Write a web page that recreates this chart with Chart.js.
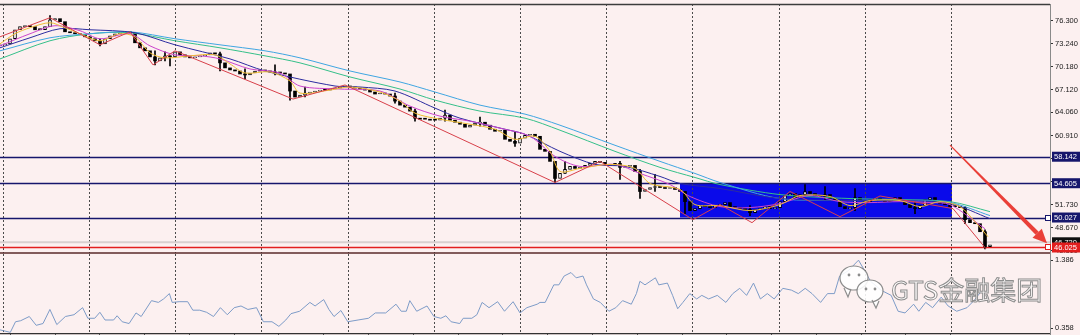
<!DOCTYPE html>
<html><head><meta charset="utf-8">
<script src="https://cdn.jsdelivr.net/npm/chart.js@4.4.1/dist/chart.umd.min.js"></script>
<style>
html,body{margin:0;padding:0;background:#FCF0F0;}
#wrap{position:relative;width:1080px;height:335px;overflow:hidden;background:#FCF0F0;}
#c1{position:absolute;left:0;top:0;}
#c2{position:absolute;left:0;top:254px;}
</style></head><body>
<div id="wrap"><canvas id="c1" width="1080" height="254"></canvas><canvas id="c2" width="1080" height="81"></canvas></div>
<script>
// ---------------- DATA ----------------
const opens = [72.94,73.08,73.21,73.89,75.09,75.50,75.63,75.50,75.09,75.09,
75.50,76.43,76.57,76.17,74.82,74.69,74.56,74.42,74.15,73.89,
73.62,73.21,73.89,74.29,74.56,74.69,74.82,74.69,73.35,72.68,
72.28,71.47,70.93,71.34,71.61,71.47,72.14,71.74,71.47,71.34,
71.47,71.61,71.74,72.01,71.87,70.67,70.00,69.73,69.59,69.19,
69.06,69.32,69.59,69.59,69.59,69.46,69.32,69.32,69.19,66.91,
66.11,66.37,66.64,66.78,66.91,67.04,67.04,67.18,67.31,67.45,
67.58,67.45,67.31,67.18,67.04,66.78,66.51,66.64,66.51,66.24,
65.57,65.03,64.76,64.23,63.29,63.15,63.15,63.02,63.02,63.29,
63.69,63.02,62.75,62.48,62.08,62.35,62.62,62.75,62.35,61.81,
61.54,61.68,60.47,60.20,59.94,60.61,61.01,61.14,60.87,59.13,
58.86,57.52,55.24,55.91,56.45,56.85,56.58,56.72,56.98,57.25,
57.52,57.39,57.12,56.98,57.25,56.72,56.85,56.98,56.18,53.50,
53.77,54.03,54.17,54.03,53.90,54.03,53.77,53.50,52.15,50.95,
51.22,51.62,51.48,51.35,51.62,51.75,52.02,51.48,51.35,51.22,
51.08,50.68,51.08,51.22,51.48,51.22,51.35,52.15,52.96,53.23,
52.69,53.09,53.50,53.23,52.96,52.83,53.09,52.56,52.29,51.48,
51.22,51.35,52.69,52.29,52.15,52.42,52.56,52.29,52.15,52.42,
52.69,52.29,51.75,51.35,51.22,51.62,52.42,52.69,52.15,51.89,
51.75,51.48,51.48,51.35,49.74,49.34,49.20,48.13,46.12];
const closes = [73.08,73.21,73.89,75.09,75.50,75.63,75.50,75.09,75.09,75.50,
76.43,76.57,76.17,74.82,74.69,74.56,74.42,74.15,73.89,73.62,
73.21,73.89,74.29,74.56,74.69,74.82,74.69,73.35,72.68,72.28,
71.47,70.93,71.34,71.61,71.47,72.14,71.74,71.47,71.34,71.47,
71.61,71.74,72.01,71.87,70.67,70.00,69.73,69.59,69.19,69.06,
69.32,69.59,69.59,69.59,69.46,69.32,69.32,69.19,66.91,66.11,
66.37,66.64,66.78,66.91,67.04,67.04,67.18,67.31,67.45,67.58,
67.45,67.31,67.18,67.04,66.78,66.51,66.64,66.51,66.24,65.57,
65.03,64.76,64.23,63.29,63.15,63.15,63.02,63.02,63.29,63.69,
63.02,62.75,62.48,62.08,62.35,62.62,62.75,62.35,61.81,61.54,
61.68,60.47,60.20,59.94,60.61,61.01,61.14,60.87,59.13,58.86,
57.52,55.24,55.91,56.45,56.85,56.58,56.72,56.98,57.25,57.52,
57.39,57.12,56.98,57.25,56.72,56.85,56.98,56.18,53.50,53.77,
54.03,54.17,54.03,53.90,54.03,53.77,53.50,52.15,50.95,51.22,
51.62,51.48,51.35,51.62,51.75,52.02,51.48,51.35,51.22,51.08,
50.68,51.08,51.22,51.48,51.22,51.35,52.15,52.96,53.23,52.69,
53.09,53.50,53.23,52.96,52.83,53.09,52.56,52.29,51.48,51.22,
51.35,52.69,52.29,52.15,52.42,52.56,52.29,52.15,52.42,52.69,
52.29,51.75,51.35,51.22,51.62,52.42,52.69,52.15,51.89,51.75,
51.48,51.48,51.35,49.74,49.34,49.20,48.13,46.12,46.39];
const wickIdx  = [10,20,31,33,34,44,49,55,58,61,79,83,89,96,103,111,113,124,128,131,137,150,161,165,171,183,193,197];
const wickHigh = [76.97,73.89,72.28,72.14,71.61,72.10,69.86,70.40,68.25,67.45,66.64,64.50,64.36,63.42,61.54,56.85,57.52,57.52,56.45,55.78,53.50,51.62,54.43,54.17,53.90,52.15,51.48,48.39];
const wickLow  = [76.03,72.94,70.40,70.93,70.26,69.59,68.52,69.06,65.70,66.11,65.30,62.89,62.89,62.22,59.53,54.70,55.91,55.11,52.56,53.50,50.54,50.28,52.83,52.42,50.95,50.54,49.20,45.85];

const maOrange = [[0,73.21],[3,74.56],[6,75.36],[10,76.03],[13,75.36],[16,74.56],[20,73.62],[24,74.56],[27,74.15],[30,72.01],[33,71.34],[38,71.61],[43,71.74],[46,70.53],[49,69.32],[54,69.46],[58,68.25],[60,66.64],[66,67.04],[70,67.45],[76,66.78],[80,65.57],[83,63.96],[88,63.15],[94,62.48],[99,61.81],[103,60.47],[107,60.87],[110,58.86],[112,56.18],[116,56.58],[122,57.12],[127,56.58],[130,54.57],[136,53.77],[139,51.75],[144,51.62],[150,50.95],[156,51.75],[160,52.96],[166,52.83],[170,51.62],[174,52.29],[180,52.29],[184,51.48],[188,52.15],[192,51.48],[195,49.47],[197.6,47.46]];
const maMagenta = [[0,72.94],[6,74.56],[11,75.63],[16,74.96],[20,73.89],[26,74.56],[30,72.94],[35,71.74],[40,71.61],[44,71.20],[50,69.86],[56,69.32],[60,67.58],[68,67.18],[76,66.91],[82,64.90],[88,63.56],[94,62.89],[100,61.95],[106,60.87],[111,58.19],[116,56.85],[123,57.12],[128,55.91],[134,54.43],[138,52.83],[144,51.48],[150,51.35],[156,51.89],[162,52.96],[168,52.15],[174,52.02],[180,52.15],[186,52.02],[190,51.75],[197,48.53]];
const maNavy = [[0,72.68],[6,74.02],[12,75.23],[18,75.09],[27,74.69],[35,73.08],[46,71.20],[53,69.59],[67,67.58],[72,67.45],[79,66.91],[87,64.63],[92,63.29],[101,61.81],[105,61.14],[112,58.86],[119,57.12],[125,56.85],[132,55.51],[136,54.57],[144,53.90],[156,52.56],[170,52.29],[180,52.29],[190,51.89],[198,49.87]];
const maBlue = [[0,72.28],[10,74.02],[18,74.56],[26,74.82],[35,73.89],[44,73.08],[53,72.28],[60,71.34],[70,69.59],[80,68.12],[87,66.78],[96,65.03],[105,63.83],[112,62.35],[123,59.67],[132,57.52],[139,55.91],[144,54.70],[156,52.56],[170,52.29],[180,52.29],[190,52.02],[198,50.28]];
const maGreen = [[0,71.20],[10,73.62],[18,74.56],[26,74.69],[35,73.62],[44,72.68],[53,71.61],[60,70.67],[70,68.79],[80,67.18],[87,65.70],[96,64.23],[105,63.29],[112,61.68],[123,58.86],[132,56.72],[139,55.37],[144,54.43],[156,53.09],[170,52.56],[180,52.42],[190,52.15],[198,50.81]];
const zigzag = [[0,74.15],[10,76.70],[20,73.08],[26,74.82],[30.6,70.40],[35,72.28],[58.6,65.84],[69,67.72],[111,54.70],[120,57.52],[138.6,49.74],[144,51.75],[150.4,49.34],[158,53.50],[168,50.14],[176,52.90],[190.6,51.22],[197.2,45.85]];

const oscIdx = [0,2.06,3.1,4.14,5.86,7.24,8.6,9.98,11.36,13.08,14.8,16.52,17.56,18.94,19.98,21.0,22.72,23.42,24.44,25.82,27.2,28.24,30.3,31.68,32.72,33.88,34.44,35.82,37.54,38.56,39.94,41.32,42.7,44.08,45.46,46.84,48.2,49.58,51.3,52.68,54.4,55.78,57.16,58.2,59.92,61.98,63.02,64.74,65.78,66.8,68.18,69.56,71.62,73.7,75.06,77.14,79.2,80.24,81.26,81.96,83.34,85.4,86.78,88.16,89.18,90.22,91.94,92.64,94.36,95.38,96.42,97.8,99.52,100.9,102.62,104.0,105.38,107.44,108,109.04,110.76,111.78,112.82,114.2,115.24,116.6,117.3,118.68,120.06,121.78,123.16,124.52,126.26,127.28,127.98,129.0,131.08,131.76,133.48,134.52,135.54,136.58,137.96,139.34,140.36,141.74,143.46,145.18,146.56,147.94,149.32,150.7,152.08,153.46,154.84,156.56,158.28,159.66,161.04,162.4,164.12,165.5,166.88,167.92,169.64,171.7,172.74,174.12,176.18,178.24,179.62,181.0,182.72,183.76,185.14,186.52,188.24,189.62,191.34,193.4,194.78,196.16];
const oscVal = [0.330,0.292,0.453,0.469,0.533,0.399,0.426,0.640,0.410,0.533,0.560,0.667,0.506,0.506,0.597,0.480,0.480,0.544,0.453,0.426,0.587,0.533,0.774,0.747,0.800,0.881,0.747,0.758,0.758,0.629,0.629,0.597,0.533,0.667,0.560,0.667,0.693,0.640,0.667,0.453,0.453,0.383,0.480,0.576,0.613,0.747,0.693,0.790,0.640,0.533,0.624,0.453,0.480,0.506,0.587,0.587,0.720,0.613,0.613,0.774,0.613,0.693,0.533,0.506,0.544,0.453,0.426,0.506,0.506,0.560,0.747,0.667,0.758,0.613,0.758,0.587,0.667,0.720,0.747,0.747,1.014,1.014,1.148,1.201,1.121,1.148,1.014,0.800,0.747,0.613,0.667,0.774,0.720,0.881,1.068,1.014,1.121,1.014,1.041,0.854,0.651,0.747,0.881,0.800,0.854,0.800,0.854,0.747,0.881,0.961,0.854,1.041,0.800,0.881,0.800,0.961,0.934,0.881,0.961,0.881,0.747,0.881,0.881,1.148,1.228,1.389,1.255,1.068,0.934,0.854,0.613,0.587,0.720,0.613,0.747,0.667,0.827,0.693,0.613,0.667,0.774,0.907];

const priceTicks = [76.300,73.240,70.180,67.120,64.060,60.910,57.850,54.790,51.730,48.670,45.610];
const oscTicks = [1.386,0.358];
const timeGridIdx = [0.6,17.85,35.1,52.35,69.6,86.85,104.1,121.35,138.6,155.85,173.1,190.35];
const timeTickIdx = [2.06,11.02,19.97,28.93,37.88,46.84,55.80,64.75,73.71,82.66,91.62,100.58,109.53,118.49,127.44,136.40,145.36,154.31,163.27,172.22,181.18,190.14];
const levelVals = [58.142,54.605,50.027];
const supportVal = 46.025;
const bidVal = 46.720;
const rangeBox = [136, 190.4, 54.605, 50.027];   // from idx, to idx, top price, bottom price
const arrowFrom = [190, 59.70];
const arrowTo = [209.4, 46.60];
const brandText = 'GTS金融集团';

// ---------------- STYLE ----------------
const BG = '#FCF0F0';
const NAVY = '#16166C';
const RED = '#E21E1E';
const FONT = "'Liberation Sans', Arial, sans-serif";
Chart.defaults.font.family = FONT;

const gridX = () => ({
  type:'linear', min:0, max:210, offset:false,
  afterBuildTicks: s => { s.ticks = timeGridIdx.map(v => ({value:v})); },
  afterFit: s => { s.height = 0; s.paddingLeft = 0; s.paddingRight = 0; },
  ticks:{display:false},
  grid:{color:'#4a4a4a', lineWidth:1, drawTicks:false, offset:false},
  border:{display:false, dash:[2,2]}
});
const rightY = (min, max, vals) => ({
  type:'linear', position:'right', min, max,
  afterBuildTicks: s => { s.ticks = vals.map(v => ({value:v})); },
  afterFit: s => { s.width = 30; s.paddingTop = 0; s.paddingBottom = 0; },
  ticks:{color:'#1a1a1a', font:{family:FONT, size:7.5}, padding:2, autoSkip:false, callback: v => Number(v).toFixed(3)},
  grid:{drawOnChartArea:false, drawTicks:true, tickLength:3, color:'#333'},
  border:{display:true, color:'#8a8a8a', width:1}
});

const pts = arr => arr.map(([x,y]) => ({x, y}));
const lineDs = (label, arr, color, order, tension) => ({type:'line', label, data:pts(arr), borderColor:color, borderWidth:1, pointRadius:0, tension, fill:false, order});

const mainDecor = {
  id:'mainDecor',
  beforeDraw(chart){
    const {ctx, scales:{x,y}} = chart;
    ctx.save();
    ctx.fillStyle = BG; ctx.fillRect(0,0,chart.width,chart.height);
    const x0 = x.getPixelForValue(rangeBox[0]), x1 = x.getPixelForValue(rangeBox[1]);
    const y0 = y.getPixelForValue(rangeBox[2]), y1 = y.getPixelForValue(rangeBox[3]);
    ctx.fillStyle = '#0A0AEA';
    ctx.fillRect(x0, y0, x1-x0, y1-y0);
    ctx.restore();
  },
  beforeDatasetsDraw(chart){
    const {ctx, chartArea:a, scales:{y}} = chart;
    ctx.save();
    let yy = y.getPixelForValue(bidVal);
    ctx.strokeStyle = '#D9CFCF'; ctx.lineWidth = 2;
    ctx.beginPath(); ctx.moveTo(a.left, yy); ctx.lineTo(a.right, yy); ctx.stroke();
    ctx.lineWidth = 1.6;
    levelVals.forEach(v => {
      const p = Math.round(y.getPixelForValue(v)) + 0.5;
      ctx.strokeStyle = NAVY;
      ctx.beginPath(); ctx.moveTo(a.left, p); ctx.lineTo(a.right, p); ctx.stroke();
    });
    const pr = Math.round(y.getPixelForValue(supportVal)) + 0.5;
    ctx.strokeStyle = RED;
    ctx.beginPath(); ctx.moveTo(a.left, pr); ctx.lineTo(a.right, pr); ctx.stroke();
    ctx.restore();
  },
  afterDatasetsDraw(chart){
    const {ctx, scales:{x,y}} = chart;
    const px0 = x.getPixelForValue(arrowFrom[0]), py0 = y.getPixelForValue(arrowFrom[1]);
    const px1 = x.getPixelForValue(arrowTo[0]), py1 = y.getPixelForValue(arrowTo[1]);
    const dx = px1-px0, dy = py1-py0, L = Math.hypot(dx,dy);
    const ux = dx/L, uy = dy/L, nx = -uy, ny = ux;
    const head = 14, hw = 6.5;
    const bx = px1 - ux*head, by = py1 - uy*head;
    ctx.save();
    ctx.fillStyle = 'rgba(232,48,40,0.92)';
    ctx.beginPath();
    ctx.moveTo(px0 + nx*0.5, py0 + ny*0.5);
    ctx.lineTo(bx + nx*2.2, by + ny*2.2);
    ctx.lineTo(bx - nx*2.2, by - ny*2.2);
    ctx.lineTo(px0 - nx*0.5, py0 - ny*0.5);
    ctx.closePath(); ctx.fill();
    ctx.beginPath();
    ctx.moveTo(px1, py1);
    ctx.lineTo(bx + nx*hw, by + ny*hw);
    ctx.lineTo(bx - nx*hw, by - ny*hw);
    ctx.closePath(); ctx.fill();
    ctx.restore();
  },
  afterDraw(chart){
    const {ctx, chartArea:a, scales:{y}} = chart;
    ctx.save();
    ctx.strokeStyle = '#3c3c3c'; ctx.lineWidth = 1.5;
    ctx.beginPath(); ctx.moveTo(0, a.top+0.5); ctx.lineTo(a.right, a.top+0.5); ctx.stroke();
    ctx.strokeStyle = '#5a2a2a'; ctx.lineWidth = 1.5;
    ctx.beginPath(); ctx.moveTo(0, a.bottom); ctx.lineTo(a.right, a.bottom); ctx.stroke();
    ctx.font = '7.5px ' + FONT; ctx.textBaseline = 'middle'; ctx.textAlign = 'left';
    const label = (v, bg) => {
      const p = y.getPixelForValue(v);
      ctx.fillStyle = bg; ctx.fillRect(a.right+2, p-5, 28, 10);
      ctx.fillStyle = '#ffffff'; ctx.fillText(v.toFixed(3), a.right+4, p+0.5);
    };
    levelVals.forEach(v => label(v, NAVY));
    label(bidVal, '#101010');
    label(supportVal, RED);
    const sq = (v, c) => {
      const p = Math.round(y.getPixelForValue(v));
      ctx.fillStyle = '#fff'; ctx.fillRect(a.right-4, p-2, 4, 4);
      ctx.strokeStyle = c; ctx.lineWidth = 1; ctx.strokeRect(a.right-4.5, p-2.5, 5, 5);
    };
    sq(levelVals[2], NAVY); sq(supportVal, RED);
    ctx.restore();
  }
};

new Chart(document.getElementById('c1'), {
  type:'line',
  data:{ datasets:[
    lineDs('ZigZag', zigzag, '#D8404A', 0, 0),
    lineDs('MA fast', maOrange, '#F0BE34', 1, 0.3),
    lineDs('MA 2', maMagenta, '#CC44CC', 2, 0.3),
    lineDs('MA 3', maNavy, '#2C2CA0', 3, 0.3),
    lineDs('MA 4', maBlue, '#3FA6E2', 4, 0.3),
    lineDs('MA 5', maGreen, '#35C08A', 5, 0.3),
    {type:'bar', label:'Body', data: closes.map((c,i)=>({x:i, y:[opens[i], c]})),
     backgroundColor: closes.map((c,i)=> c>opens[i] ? '#ffffff' : '#000000'),
     borderColor:'#000000', borderWidth: closes.map((c,i)=> c>opens[i] ? 1 : 0),
     borderSkipped:false, barThickness:3, minBarLength:1, grouped:false, order:10},
    {type:'bar', label:'Wick', data: wickIdx.map((x,k)=>({x, y:[wickLow[k], wickHigh[k]]})),
     backgroundColor:'#000000', barThickness:1, grouped:false, order:11}
  ]},
  options:{
    responsive:false, animation:false, devicePixelRatio:1, events:[],
    layout:{padding:{top:4, bottom:1, left:0, right:0}},
    plugins:{legend:{display:false}, tooltip:{enabled:false}},
    scales:{ x: gridX(), y: rightY(45.29, 78.53, priceTicks) }
  },
  plugins:[mainDecor]
});

const lowDecor = {
  id:'lowDecor',
  beforeDraw(chart){
    const {ctx} = chart;
    ctx.save(); ctx.fillStyle = BG; ctx.fillRect(0,0,chart.width,chart.height); ctx.restore();
  },
  afterDraw(chart){
    const {ctx} = chart;
    ctx.save();
    const bubble = (cx, cy, rx, ry, tx, ty) => {
      ctx.beginPath(); ctx.ellipse(cx, cy, rx, ry, 0, 0, Math.PI*2);
      ctx.moveTo(cx + tx - 4, cy + ry - 2); ctx.lineTo(cx + tx, cy + ty); ctx.lineTo(cx + tx + 3, cy + ry - 1);
      ctx.fillStyle = 'rgba(255,255,255,0.88)'; ctx.fill();
      ctx.strokeStyle = '#8c8c8c'; ctx.lineWidth = 1.2; ctx.stroke();
    };
    const dot = (cx, cy) => { ctx.beginPath(); ctx.arc(cx, cy, 1.4, 0, Math.PI*2); ctx.fillStyle = '#8c8c8c'; ctx.fill(); };
    bubble(854, 24, 14, 12, -6, 19);
    dot(849, 21); dot(859, 21);
    bubble(870, 37, 13, 11, 6, 17);
    dot(866, 35); dot(875, 35);
    ctx.font = "26px 'Noto Sans CJK SC', sans-serif";
    ctx.textBaseline = 'alphabetic'; ctx.textAlign = 'left';
    ctx.fillStyle = 'rgba(255,255,255,0.75)';
    ctx.fillText(brandText, 891, 46);
    ctx.strokeStyle = '#8e8e8e'; ctx.lineWidth = 1;
    ctx.strokeText(brandText, 891, 46);
    ctx.restore();
  }
};

new Chart(document.getElementById('c2'), {
  type:'line',
  data:{ datasets:[
    {label:'Oscillator', data: oscIdx.map((x,i)=>({x, y:oscVal[i]})), borderColor:'#7E9CC8', borderWidth:1, pointRadius:0, tension:0, fill:false}
  ]},
  options:{
    responsive:false, animation:false, devicePixelRatio:1, events:[],
    layout:{padding:{top:0, bottom:0, left:0, right:0}},
    plugins:{legend:{display:false}, tooltip:{enabled:false}},
    scales:{
      x: gridX(),
      xt: { type:'linear', position:'bottom', min:0, max:210, offset:false,
            afterBuildTicks: s => { s.ticks = timeTickIdx.map(v => ({value:v})); },
            afterFit: s => { s.height = 1; s.paddingLeft = 0; s.paddingRight = 0; },
            ticks:{display:false},
            grid:{drawOnChartArea:false, drawTicks:true, tickLength:4, color:'#333'},
            border:{display:true, color:'#333', width:1.2} },
      y: rightY(0.267, 1.483, oscTicks)
    }
  },
  plugins:[lowDecor]
});
</script>
</body></html>
